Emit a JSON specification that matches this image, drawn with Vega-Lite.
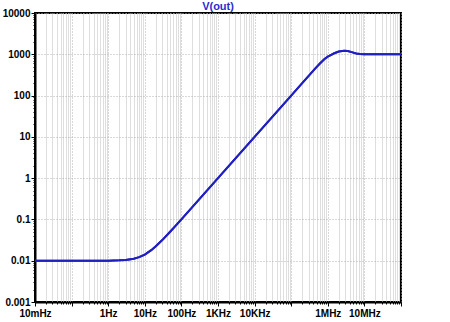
{
  "$schema": "https://vega.github.io/schema/vega-lite/v6.json",
  "autosize": {"type": "none"},
  "padding": {"left": 35, "top": 13, "right": 49, "bottom": 20},
  "width": 366,
  "height": 289,
  "background": "white",
  "config": {
    "view": {"stroke": "#000000", "strokeWidth": 2},
    "axis": {"labelFont": "Liberation Sans", "labelFontWeight": "bold", "labelFontSize": 10, "labelColor": "#000000", "domainColor": "#000000", "tickColor": "#000000", "title": null}
  },
  "title": {"text": "V(out)", "color": "#2b2bd0", "font": "Liberation Sans", "fontSize": 11, "fontWeight": "bold", "offset": -4, "anchor": "middle"},
  "data": {"values": [
    {"f": 0.01, "v": 0.01},
    {"f": 0.1, "v": 0.01},
    {"f": 1, "v": 0.01005},
    {"f": 2, "v": 0.0102},
    {"f": 3, "v": 0.01044},
    {"f": 5, "v": 0.0112},
    {"f": 7, "v": 0.0122},
    {"f": 10, "v": 0.0141},
    {"f": 15, "v": 0.018},
    {"f": 20, "v": 0.0224},
    {"f": 30, "v": 0.0316},
    {"f": 50, "v": 0.051},
    {"f": 70, "v": 0.0707},
    {"f": 100, "v": 0.1005},
    {"f": 1000, "v": 1.0},
    {"f": 10000, "v": 10},
    {"f": 100000, "v": 100},
    {"f": 200000, "v": 200},
    {"f": 300000, "v": 300},
    {"f": 450000, "v": 450},
    {"f": 600000, "v": 590},
    {"f": 800000, "v": 760},
    {"f": 1000000, "v": 880},
    {"f": 1200000, "v": 960},
    {"f": 1500000, "v": 1060},
    {"f": 2000000, "v": 1170},
    {"f": 2800000, "v": 1222},
    {"f": 3500000, "v": 1200},
    {"f": 4500000, "v": 1130},
    {"f": 6000000, "v": 1050},
    {"f": 7500000, "v": 1015},
    {"f": 10000000, "v": 1000},
    {"f": 100000000, "v": 1000}
  ]},
  "layer": [
    {
      "mark": {"type": "line", "color": "#2020c0", "strokeWidth": 2, "clip": true},
      "encoding": {
        "x": {"field": "f", "type": "quantitative", "scale": {"type": "log", "domain": [0.01, 100000000], "nice": false},
          "axis": {"orient": "bottom", "values": [0.02,0.03,0.04,0.05,0.06,0.07,0.08,0.09,0.2,0.3,0.4,0.5,0.6,0.7,0.8,0.9,2,3,4,5,6,7,8,9,20,30,40,50,60,70,80,90,200,300,400,500,600,700,800,900,2000,3000,4000,5000,6000,7000,8000,9000,20000,30000,40000,50000,60000,70000,80000,90000,200000,300000,400000,500000,600000,700000,800000,900000,2000000,3000000,4000000,5000000,6000000,7000000,8000000,9000000,20000000,30000000,40000000,50000000,60000000,70000000,80000000,90000000],
            "labels": false, "grid": true, "gridColor": "#dedede", "gridWidth": 1, "tickSize": 2, "domain": false}},
        "y": {"field": "v", "type": "quantitative", "scale": {"type": "log", "domain": [0.001, 10000], "nice": false},
          "axis": {"orient": "left", "values": [0.002,0.003,0.004,0.005,0.006,0.007,0.008,0.009,0.02,0.03,0.04,0.05,0.06,0.07,0.08,0.09,0.2,0.3,0.4,0.5,0.6,0.7,0.8,0.9,2,3,4,5,6,7,8,9,20,30,40,50,60,70,80,90,200,300,400,500,600,700,800,900,2000,3000,4000,5000,6000,7000,8000,9000],
            "labels": false, "grid": false, "tickSize": 2, "domain": false}}
      }
    },
    {
      "mark": {"type": "line", "color": "#2020c0", "strokeWidth": 2, "clip": true},
      "encoding": {
        "x": {"field": "f", "type": "quantitative",
          "axis": {"orient": "bottom", "values": [0.01,0.1,1,10,100,1000,10000,100000,1000000,10000000,100000000],
            "labelExpr": "datum.value < 0.05 ? '10mHz' : datum.value < 0.5 ? '' : datum.value < 5 ? '1Hz' : datum.value < 50 ? '10Hz' : datum.value < 500 ? '100Hz' : datum.value < 5000 ? '1KHz' : datum.value < 50000 ? '10KHz' : datum.value < 500000 ? '' : datum.value < 5000000 ? '1MHz' : datum.value < 50000000 ? '10MHz' : ''",
            "labelOverlap": false, "labelFlush": false, "labelPadding": 2, "grid": true, "gridColor": "#b0b0b0", "gridDash": [1, 2], "tickSize": 4, "domainWidth": 2}},
        "y": {"field": "v", "type": "quantitative",
          "axis": {"orient": "left", "values": [0.001,0.01,0.1,1,10,100,1000,10000], "format": "~g",
            "labelOverlap": false, "labelFlush": false, "labelPadding": 1, "grid": true, "gridColor": "#b0b0b0", "gridDash": [1, 2], "tickSize": 4, "domainWidth": 2}}
      }
    }
  ],
  "resolve": {"axis": {"x": "independent", "y": "independent"}}
}
